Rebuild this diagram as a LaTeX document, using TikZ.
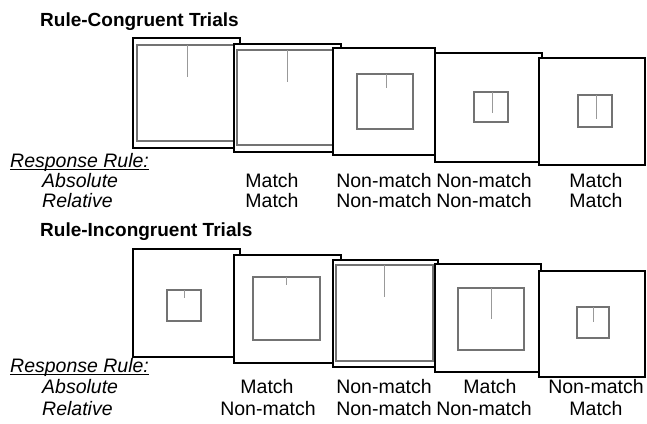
\documentclass[tikz,border=0pt]{standalone}
\usepackage{fontspec}
\setmainfont{Liberation Sans}
\usetikzlibrary{calc}
\begin{document}
\begin{tikzpicture}[x=1pt,y=-1pt,
  frame/.style={draw=black,fill=white,line width=2.6pt},
  inner/.style={draw=black!55,line width=1.2pt},
  tick/.style={draw=black!40,line width=0.9pt},
  title/.style={font=\fontsize{19}{21}\selectfont\bfseries,anchor=base west,inner sep=0pt},
  rulelab/.style={font=\fontsize{19.5}{21}\selectfont\itshape,anchor=base west,inner sep=0pt},
  ans/.style={font=\fontsize{19.5}{21}\selectfont,anchor=base,inner sep=0pt}]
\useasboundingbox (0,0) rectangle (647,423);
% ---------- titles ----------
\node[title] (t1) at (40,26) {Rule-Congruent Trials};
\node[title] (t2) at (40,236) {Rule-Incongruent Trials};
% ---------- top row frames ----------
\draw[frame] (133,38) rectangle (240,148);
\draw[inner] (137,45) rectangle (238,141);
\draw[tick] (187,45) -- (187,77);
\draw[frame] (234,44) rectangle (341,152);
\draw[inner] (237,50) rectangle (339,145);
\draw[tick] (287,50) -- (287,82);
\draw[frame] (333,48) rectangle (435,155);
\draw[inner] (357,74) rectangle (413,129);
\draw[tick] (386,74) -- (386,88);
\draw[frame] (435,53) rectangle (542,162);
\draw[inner] (474,92) rectangle (508,122);
\draw[tick] (492,92) -- (492,113);
\draw[frame] (539,58) rectangle (645,165);
\draw[inner] (578,95) rectangle (612,127);
\draw[tick] (596,95) -- (596,119);
% ---------- top labels ----------
\node[rulelab] (rr1) at (10,167) {Response Rule:};
\draw[line width=0.9pt] ($(rr1.base west)+(0,2.5)$) -- ($(rr1.base east)+(0,2.5)$);
\node[rulelab] (ab1) at (42,187) {Absolute};
\node[rulelab] (re1) at (42,207) {Relative};
\node[ans] (a11) at (272,187) {Match};
\node[ans] (a12) at (384,187) {Non-match};
\node[ans] (a13) at (484,187) {Non-match};
\node[ans] (a14) at (596,187) {Match};
\node[ans] (r11) at (272,207) {Match};
\node[ans] (r12) at (384,207) {Non-match};
\node[ans] (r13) at (484,207) {Non-match};
\node[ans] (r14) at (596,207) {Match};
% ---------- bottom row frames ----------
\draw[frame] (133,249) rectangle (240,357);
\draw[inner] (167,290) rectangle (201,321);
\draw[tick] (184,290) -- (184,298);
\draw[frame] (234,255) rectangle (341,363);
\draw[inner] (253,277) rectangle (320,340);
\draw[tick] (286,277) -- (286,285);
\draw[frame] (333,260) rectangle (438,367);
\draw[inner] (336,265) rectangle (433,361);
\draw[tick] (384,265) -- (384,297);
\draw[frame] (435,264) rectangle (541,372);
\draw[inner] (458,288) rectangle (524,350);
\draw[tick] (491,288) -- (491,319);
\draw[frame] (539,271) rectangle (645,377);
\draw[inner] (577,307) rectangle (609,338);
\draw[tick] (593,307) -- (593,322);
% ---------- bottom labels ----------
\node[rulelab] (rr2) at (10,372) {Response Rule:};
\draw[line width=0.9pt] ($(rr2.base west)+(0,2.5)$) -- ($(rr2.base east)+(0,2.5)$);
\node[rulelab] (ab2) at (42,393) {Absolute};
\node[rulelab] (re2) at (42,415) {Relative};
\node[ans] (a21) at (267,393) {Match};
\node[ans] (a22) at (384,393) {Non-match};
\node[ans] (a23) at (490,393) {Match};
\node[ans] (a24) at (596,393) {Non-match};
\node[ans] (r21) at (268,415) {Non-match};
\node[ans] (r22) at (384,415) {Non-match};
\node[ans] (r23) at (484,415) {Non-match};
\node[ans] (r24) at (596,415) {Match};
\end{tikzpicture}
\end{document}
